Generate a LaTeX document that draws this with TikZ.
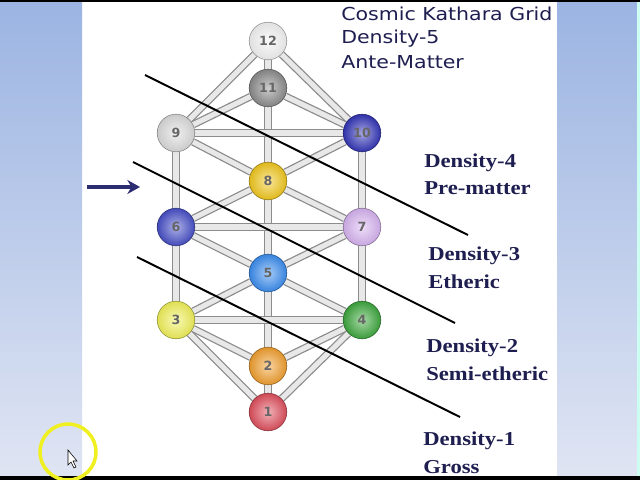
\documentclass[tikz,border=0pt]{standalone}
\usepackage{fontspec}
\setsansfont{DejaVu Sans}
\newfontfamily\titlefont[FakeStretch=1.15]{DejaVu Sans}
\newfontfamily\densfont[FakeStretch=1.15]{Liberation Serif}
\usetikzlibrary{arrows.meta, backgrounds}

\definecolor{paneltop}{HTML}{9BB4E2}
\definecolor{panelbot}{HTML}{E0E5F3}
\definecolor{navy}{HTML}{1E1E50}
\definecolor{arrowblue}{HTML}{2C2C70}
\definecolor{ringyellow}{HTML}{F0F020}
\definecolor{cwhite}{HTML}{F4F4F4}
\definecolor{cgrey}{HTML}{8C8C8C}
\definecolor{clight}{HTML}{DCDCDC}
\definecolor{cdeep}{HTML}{3436B8}
\definecolor{cgold}{HTML}{F2C81E}
\definecolor{cblue}{HTML}{4850C8}
\definecolor{clilac}{HTML}{D8B4F2}
\definecolor{csky}{HTML}{3C8EF0}
\definecolor{clemon}{HTML}{F2F25A}
\definecolor{cgreen}{HTML}{3EA83E}
\definecolor{corange}{HTML}{F2A030}
\definecolor{cred}{HTML}{E0505E}

\begin{document}
\begin{tikzpicture}[
  x=0.025cm, y=-0.025cm, >=Stealth,
  sphere/.style={circle, draw=#1!60!black, shading=radial, inner color=#1!45!white,
    outer color=#1!92!black, minimum size=0.94cm, inner sep=0pt,
    font=\sffamily\bfseries\small, text=black!60},
  tube/.style={draw=black!45, line width=0.9pt, double=black!9, double distance=3.6pt},
  cut/.style={line width=1.4pt, black},
  title/.style={anchor=base west, inner sep=0pt, text=navy,
    font=\titlefont\fontsize{12.7}{15}\selectfont},
  dens/.style={anchor=base west, inner sep=0pt, text=navy,
    font=\densfont\bfseries\fontsize{14}{17}\selectfont}]
\useasboundingbox (0,0) rectangle (640,480);

% spheres
\node[sphere=cwhite] (n12) at (268,41) {12};
\node[sphere=cgrey] (n11) at (268,88) {11};
\node[sphere=clight] (n9) at (176,133) {9};
\node[sphere=cdeep] (n10) at (362,133) {10};
\node[sphere=cgold] (n8) at (268,181) {8};
\node[sphere=cblue] (n6) at (176,227) {6};
\node[sphere=clilac] (n7) at (362,227) {7};
\node[sphere=csky] (n5) at (268,273) {5};
\node[sphere=clemon] (n3) at (176,320) {3};
\node[sphere=cgreen] (n4) at (362,320) {4};
\node[sphere=corange] (n2) at (268,366) {2};
\node[sphere=cred] (n1) at (268,412) {1};

\begin{pgfonlayer}{background}
% screen frame
\fill[white] (0,0) rectangle (640,480);
\shade[top color=paneltop, bottom color=panelbot] (0,0) rectangle (82,480);
\shade[top color=paneltop, bottom color=panelbot] (557,0) rectangle (637,480);
\fill[green!25!cyan!20] (637,0) rectangle (640,480);
\fill[black] (0,0) rectangle (640,2);
\fill[black] (0,476) rectangle (640,480);
% paths of the grid
\foreach \a/\b in {12/11, 11/8, 8/5, 5/2, 2/1, 9/6, 6/3, 10/7, 7/4,
    9/10, 6/7, 3/4, 12/9, 12/10, 11/9, 11/10, 9/8, 10/8, 8/6, 8/7,
    6/5, 7/5, 5/3, 5/4, 3/2, 4/2, 3/1, 4/1}
  \draw[tube] (n\a) -- (n\b);
\end{pgfonlayer}

% density borders
\coordinate (c1a) at (145,75);
\coordinate (c1b) at (468,235);
\coordinate (c2a) at (133,162);
\coordinate (c2b) at (455,323);
\coordinate (c3a) at (137,257);
\coordinate (c3b) at (460,417);
\draw[cut] (c1a) -- (c1b);
\draw[cut] (c2a) -- (c2b);
\draw[cut] (c3a) -- (c3b);

% pointer arrow
\coordinate (pa) at (87,187);
\coordinate (pb) at (140,187);
\draw[arrowblue, line width=2.6pt, arrows={-Stealth[length=9pt, width=10pt]}] (pa) -- (pb);

% labels
\node[title] (t1) at (341,20) {Cosmic Kathara Grid};
\node[title] (t2) at (341,44) {Density-5};
\node[title] (t3) at (341,68) {Ante-Matter};

\node[dens] (d4a) at (424,167) {Density-4};
\node[dens] (d4b) at (424,194) {Pre-matter};
\node[dens] (d3a) at (428,260) {Density-3};
\node[dens] (d3b) at (428,288) {Etheric};
\node[dens] (d2a) at (426,352) {Density-2};
\node[dens] (d2b) at (426,380) {Semi-etheric};
\node[dens] (d1a) at (423,445) {Density-1};
\node[dens] (d1b) at (423,473) {Gross};

% cursor highlight
\draw[ringyellow, line width=2.5pt] (68,452) circle (28);
\draw[fill=white, line width=0.4pt] (68,450) -- (68,465) -- (71,462) -- (74,468)
  -- (76,467) -- (73,461) -- (77,461) -- cycle;
\end{tikzpicture}
\end{document}
